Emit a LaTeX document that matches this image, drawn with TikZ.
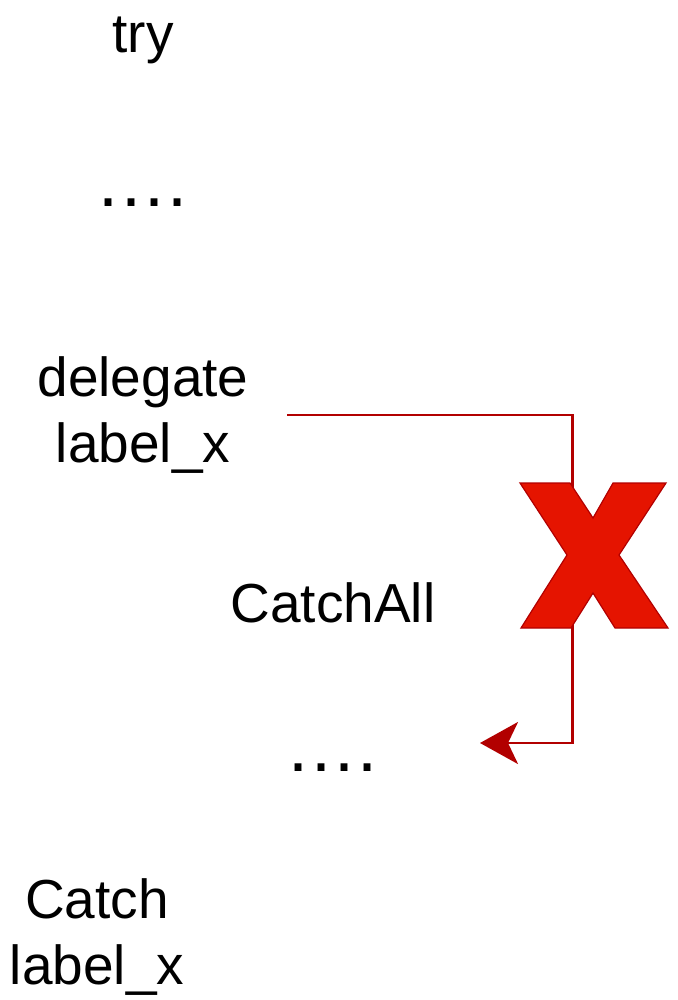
\documentclass[tikz,border=0pt]{standalone}
\usepackage{fontspec}
\setmainfont{Liberation Sans}
\usetikzlibrary{positioning,arrows.meta}

\definecolor{crossfill}{HTML}{E51400}
\definecolor{crossline}{HTML}{B20000}

\newcommand{\skipped}{.\kern1.6pt.\kern1.6pt.\kern1.6pt.}

\tikzset{
  txt/.style={font=\fontsize{27.5}{33}\selectfont, inner sep=0pt},
  block/.style={txt, align=center, minimum width=144pt},
  gap/.style={font=\fontsize{36}{40}\selectfont, inner sep=0pt},
  flow/.style={->, draw=crossline, line width=1.3pt},
}

\begin{document}
\begin{tikzpicture}[x=0.5pt,y=-0.5pt,>={Stealth[length=19pt,width=21pt,inset=5pt]}]
      \useasboundingbox (0,0) rectangle (677,1000);
      \node[txt, anchor=base] (try)   at (143,53)  {try};
      \node[gap, anchor=base] (gap1)  at (143,206) {\skipped};
      \node[block] (deleg)            at (143,415) {delegate\\label\_x};
      \node[txt, anchor=base] (catchall) at (333,622) {CatchAll};
      \node[gap, anchor=base] (gap2)  at (333,771) {\skipped};
      \node[block] (catch)            at (97,937)  {Catch\\label\_x};
      \coordinate (landing) at (480,743);

      % delegate jumps past the catch-all
      \draw[flow] (deleg.east) -- ++(285,0) |- (landing);

      % the big cross on the jump
      \filldraw[fill=crossfill, draw=crossline, line width=0.6pt]
        (520,483) -- (570,483) -- (593,518) -- (613,483) -- (666,483)
        -- (619,555) -- (668,628) -- (615,628) -- (593,593) -- (571,628)
        -- (521,628) -- (567,555) -- cycle;
    \end{tikzpicture}
\end{document}
